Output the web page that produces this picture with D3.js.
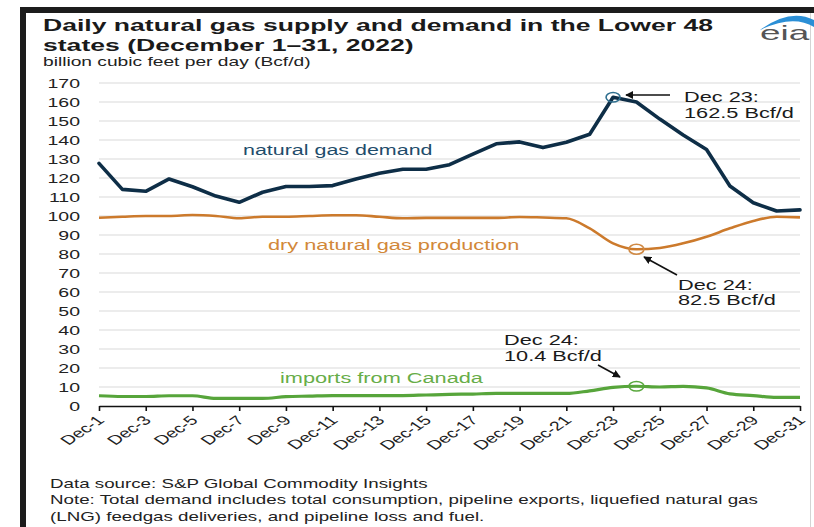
<!DOCTYPE html>
<html><head><meta charset="utf-8">
<script src="https://cdn.jsdelivr.net/npm/d3@7"></script>
<style>
html,body{margin:0;padding:0;background:#fff;}
svg{display:block;font-family:"Liberation Sans",Arial,sans-serif;}
</style></head>
<body>
<svg id="c" width="814" height="527"></svg>
<script>
// ---- data ----
const days = d3.range(1, 32);
const demand = [127.7,114,113,119.5,115.4,110.5,107.2,112.5,115.5,115.5,116,119.5,122.5,124.6,124.6,127,132.6,138,139,136,138.8,143,162.5,160,151,142.6,135,115.8,107,102.6,103.2];
const production = [99.1,99.6,100,100,100.5,100,98.8,99.6,99.6,100,100.4,100.4,99.6,98.8,99,99,99,99,99.5,99.2,98.8,93.5,85.6,82.5,83.2,85.6,89.1,93.5,97.4,99.6,99.3];
const imports = [5.4,5,5,5.4,5.4,4,4,4,4.9,5.2,5.5,5.5,5.5,5.5,5.8,6.1,6.3,6.6,6.6,6.6,6.6,8,9.8,10.4,10,10.3,9.5,6.4,5.5,4.5,4.5];
const yTicks = d3.range(0, 171, 10);
const xTickDays = d3.range(1, 32, 2);
const xTickLabels = xTickDays.map(d => "Dec-" + d);
const titleLines = ["Daily natural gas supply and demand in the Lower 48", "states (December 1\u201331, 2022)"];
const subtitle = "billion cubic feet per day (Bcf/d)";
const notes = ["Data source: S&P Global Commodity Insights",
  "Note: Total demand includes total consumption, pipeline exports, liquefied natural gas",
  "(LNG) feedgas deliveries, and pipeline loss and fuel."];

// ---- layout ----
const SX = 1.5; // horizontal stretch of the reference picture
const svg = d3.select("#c");
const x = d3.scaleLinear().domain([1, 31]).range([99, 800]);
const y = d3.scaleLinear().domain([0, 170]).range([406, 83]);

function stext(g, tx, ty, str, opts) {
  const sx = opts.sx || SX;
  const t = g.append("text")
    .attr("transform", `translate(${tx},${ty}) scale(${sx},1)`)
    .text(str)
    .attr("font-size", opts.size)
    .attr("fill", opts.fill || "#1a1a1a");
  if (opts.weight) t.attr("font-weight", opts.weight);
  if (opts.anchor) t.attr("text-anchor", opts.anchor);
  if (opts.dy) t.attr("dy", opts.dy);
  return t;
}

// frame
svg.append("rect").attr("x", 20).attr("y", 7).attr("width", 794).attr("height", 6).attr("fill", "#1c1c1c");
svg.append("rect").attr("x", 20).attr("y", 7).attr("width", 6).attr("height", 520).attr("fill", "#1c1c1c");
svg.append("line").attr("x1", 810.5).attr("x2", 810.5).attr("y1", 13).attr("y2", 527).attr("stroke", "#d4d4d4");

// title
stext(svg, 43, 31.3, titleLines[0], {size: 16.3, weight: "bold", sx: 1.63});
stext(svg, 43, 50.5, titleLines[1], {size: 16.3, weight: "bold", sx: 1.63});
stext(svg, 43, 66, subtitle, {size: 12.8, fill: "#222"});

// eia logo
svg.append("path").attr("d", "M760,30 Q790,8 814,20 L814,27 Q793,14 760,30 Z").attr("fill", "#2b8fd6");
stext(svg, 760, 40, "eia", {size: 20.5, fill: "#555", sx: 1.8});

// gridlines
svg.append("g").selectAll("line").data(yTicks.filter(v => v > 0)).join("line")
  .attr("x1", x(1)).attr("x2", x(31))
  .attr("y1", d => y(d)).attr("y2", d => y(d))
  .attr("stroke", "#dadada").attr("stroke-width", 1.2);

// y labels
const yl = svg.append("g");
yTicks.forEach(v => stext(yl, 80, y(v), String(v), {size: 13, fill: "#222", anchor: "end", dy: "0.36em"}));

// x axis
const xAxis = d3.axisBottom(x).tickValues(xTickDays).tickSize(5).tickSizeOuter(0)
  .tickFormat((d, i) => xTickLabels[i]);
const gx = svg.append("g").attr("transform", `translate(0,${y(0)})`).call(xAxis);
gx.select(".domain").attr("stroke", "#111").attr("stroke-width", 1.6);
gx.selectAll(".tick line").attr("stroke", "#111").attr("stroke-width", 1.6);
gx.selectAll(".tick text")
  .attr("y", null).attr("dy", "0.35em").attr("x", null)
  .attr("transform", `translate(1,12) scale(${SX},1) rotate(-45)`)
  .attr("text-anchor", "end")
  .attr("font-size", 13).attr("fill", "#222")
  .attr("font-family", "Liberation Sans, Arial, sans-serif");

// lines
const lineLin = d3.line().x((d, i) => x(days[i])).y(d => y(d));
const lineSm = d3.line().x((d, i) => x(days[i])).y(d => y(d)).curve(d3.curveMonotoneX);
svg.append("path").datum(production).attr("d", lineSm).attr("fill", "none")
  .attr("stroke", "#cc7a2c").attr("stroke-width", 2.6).attr("stroke-linejoin", "round");
svg.append("path").datum(imports).attr("d", lineSm).attr("fill", "none")
  .attr("stroke", "#57a53b").attr("stroke-width", 3.2).attr("stroke-linejoin", "round");
svg.append("path").datum(demand).attr("d", lineLin).attr("fill", "none")
  .attr("stroke", "#0e2e47").attr("stroke-width", 3.6).attr("stroke-linejoin", "round").attr("stroke-linecap", "round");

// series labels
stext(svg, 243, 155, "natural gas demand", {size: 14.3, fill: "#1f4d6b"});
stext(svg, 268, 250, "dry natural gas production", {size: 14.5, fill: "#d2883a"});
stext(svg, 280, 383, "imports from Canada", {size: 14.5, fill: "#67ad48"});

// markers
const dPeak = 23, pMin = 24, iPeak = 24;
svg.append("ellipse").attr("cx", x(dPeak)).attr("cy", y(demand[dPeak - 1])).attr("rx", 7).attr("ry", 4.8)
  .attr("fill", "none").attr("stroke", "#2f6f8f").attr("stroke-width", 1.6);
svg.append("ellipse").attr("cx", x(pMin)).attr("cy", y(production[pMin - 1])).attr("rx", 7.5).attr("ry", 5)
  .attr("fill", "none").attr("stroke", "#d08a45").attr("stroke-width", 1.6);
svg.append("ellipse").attr("cx", x(iPeak)).attr("cy", y(imports[iPeak - 1])).attr("rx", 7.5).attr("ry", 4.8)
  .attr("fill", "none").attr("stroke", "#5aa83e").attr("stroke-width", 1.6);

// arrows
const defs = svg.append("defs");
defs.append("marker").attr("id", "ah").attr("viewBox", "0 0 10 10").attr("refX", 9).attr("refY", 5)
  .attr("markerWidth", 5).attr("markerHeight", 5).attr("orient", "auto")
  .append("path").attr("d", "M0,0 L10,5 L0,10 Z").attr("fill", "#111");
function arrow(x1, y1, x2, y2) {
  svg.append("line").attr("x1", x1).attr("y1", y1).attr("x2", x2).attr("y2", y2)
    .attr("stroke", "#111").attr("stroke-width", 1.6).attr("marker-end", "url(#ah)");
}
arrow(670, 95, 626, 95);
arrow(677, 275, 644, 257);
arrow(598, 365, 620, 377);

// annotations
stext(svg, 684, 102, "Dec 23:", {size: 14.5});
stext(svg, 684, 117.5, "162.5 Bcf/d", {size: 14.5});
stext(svg, 678, 289.5, "Dec 24:", {size: 14.5});
stext(svg, 678, 305, "82.5 Bcf/d", {size: 14.5});
stext(svg, 504, 345, "Dec 24:", {size: 14.5});
stext(svg, 504, 361, "10.4 Bcf/d", {size: 14.5});

// notes
notes.forEach((n, i) => stext(svg, 50, 487.5 + i * 16.7, n, {size: 12.5, fill: "#222"}));
</script>
</body></html>
